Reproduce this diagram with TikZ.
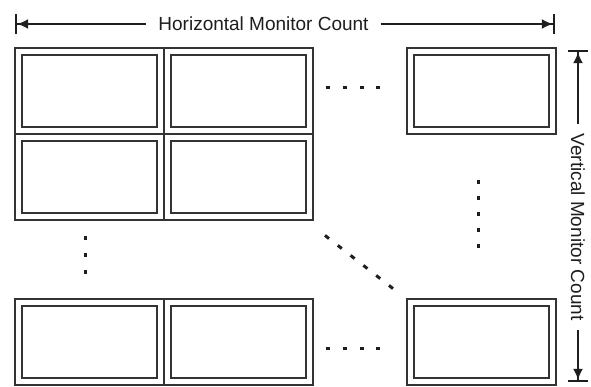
\documentclass[tikz,border=0pt]{standalone}
\usepackage{fontspec}
\setmainfont{Liberation Sans}
\usetikzlibrary{arrows.meta}
\definecolor{frame}{HTML}{333333}
\definecolor{ink}{HTML}{1E1E1E}
\begin{document}
\begin{tikzpicture}[x=1pt,y=-1pt,
  monitor/.style={draw=frame, line width=1.6pt, anchor=north west,
    minimum width=149pt, minimum height=86pt, inner sep=0pt, outer sep=0pt,
    path picture={\draw[frame, line width=1.6pt]
      ([shift={(6.8pt,-6.8pt)}]path picture bounding box.north west) rectangle
      ([shift={(-6.8pt,6.8pt)}]path picture bounding box.south east);}},
  dimlabel/.style={text=ink, font=\fontsize{19}{22}\selectfont, inner ysep=0pt, inner xsep=12pt},
  dimline/.style={ink, line width=2.1pt,
    -{Latex[length=11pt,width=10pt]Bar[width=20pt,line width=2.1pt]}},
  dotmark/.style={ink, line width=3pt}
]
\useasboundingbox (0,0) rectangle (591,387);

% monitor wall
\node[monitor] (m11) at (15,48) {};
\node[monitor] (m12) at (164,48) {};
\node[monitor] (m1n) at (407,48) {};
\node[monitor] (m21) at (15,134) {};
\node[monitor] (m22) at (164,134) {};
\node[monitor] (mn1) at (15,299) {};
\node[monitor] (mn2) at (164,299) {};
\node[monitor] (mnn) at (407,299) {};

% ellipsis marks between the monitors
\foreach \x in {328,345,362,378} {
  \draw[dotmark] (\x-2.4,88) -- (\x+2.4,88);
  \draw[dotmark] (\x-2.4,348) -- (\x+2.4,348);
}
\foreach \y in {238,255,272}
  \draw[dotmark] (85,\y-2.2) -- (85,\y+2.2);
\foreach \y in {182,198,214,230,246}
  \draw[dotmark] (478,\y-2.2) -- (478,\y+2.2);
\foreach \i in {0,...,5}
  \draw[dotmark] ({327+12.8*\i-2},{237+10*\i-1.6}) -- ({327+12.8*\i+2},{237+10*\i+1.6});

% horizontal dimension
\node[dimlabel] (htext) at (263.5,24) {Horizontal Monitor Count};
\coordinate (hl) at (15,24);
\coordinate (hr) at (555,24);
\draw[dimline] (htext.west) -- (hl);
\draw[dimline] (htext.east) -- (hr);

% vertical dimension
\node[dimlabel, rotate=-90, inner xsep=9pt] (vtext) at (578,227) {Vertical Monitor Count};
\coordinate (vt) at (578,50);
\coordinate (vb) at (578,382);
\draw[dimline] (vtext.west) -- (vt);
\draw[dimline] (vtext.east) -- (vb);
\end{tikzpicture}
\end{document}
